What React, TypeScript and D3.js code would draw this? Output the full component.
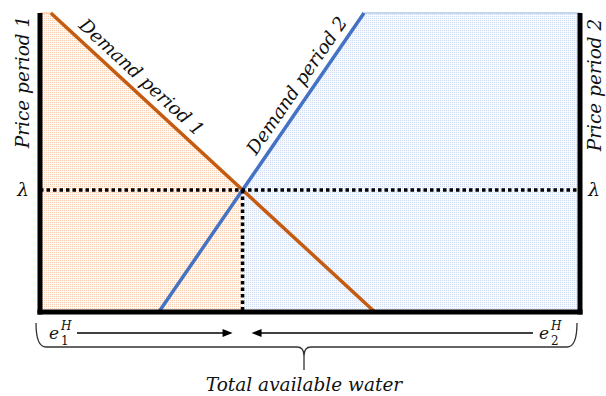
import React from "react";
import * as d3 from "d3";

// demand curves in (share of total water, price) units
const demand1 = [
  { water: 2, price: 100 },
  { water: 62, price: 0 },
];
const demand2 = [
  { water: 22, price: 0 },
  { water: 60, price: 100 },
];
const curveLabels = ["Demand period 1", "Demand period 2"];
const labelPrice = [75, 73];
const axisLabels = ["Price period 1", "Price period 2"];
const bottomLabel = "Total available water";

const W = 606, H = 396;
const FONT = "'DejaVu Serif', serif";

function waterAt(line, p) {
  const [a, b] = line;
  return a.water + ((p - a.price) * (b.water - a.water)) / (b.price - a.price);
}

export default function App() {
  const x = d3.scaleLinear().domain([0, 100]).range([40, 580]);
  const y = d3.scaleLinear().domain([0, 100]).range([312, 13]);

  // equilibrium: where the two demand curves cross
  const s1 = (demand1[1].water - demand1[0].water) / (demand1[1].price - demand1[0].price);
  const s2 = (demand2[1].water - demand2[0].water) / (demand2[1].price - demand2[0].price);
  const lambda = (demand2[0].water - demand1[0].water + s1 * demand1[0].price - s2 * demand2[0].price) / (s1 - s2);
  const e1 = waterAt(demand1, lambda);

  const poly = d3.line<[number, number]>().x(d => x(d[0])).y(d => y(d[1]));
  const orangeArea: [number, number][] = [
    [0, 100], [waterAt(demand1, 100), 100], [e1, lambda], [e1, 0], [0, 0],
  ];
  const blueArea: [number, number][] = [
    [e1, 0], [e1, lambda], [waterAt(demand2, 100), 100], [100, 100], [100, 0],
  ];
  const path = d3.line<{ water: number; price: number }>().x(d => x(d.water)).y(d => y(d.price));

  const ang1 = (Math.atan2(y(demand1[1].price) - y(demand1[0].price), x(demand1[1].water) - x(demand1[0].water)) * 180) / Math.PI;
  const ang2 = (Math.atan2(y(demand2[1].price) - y(demand2[0].price), x(demand2[1].water) - x(demand2[0].water)) * 180) / Math.PI;

  const ex = x(e1), ly = y(lambda);
  const arrowY = 333;
  const braceTop = 323, braceY = 347, mid = 304;

  return (
    <svg width={W} height={H} style={{ position: "absolute", left: 0, top: 0, background: "#fff" }}>
      <defs>
        <pattern id="dotO" width="2" height="2" patternUnits="userSpaceOnUse">
          <rect width="2" height="2" fill="#fff8f3" />
          <rect width="1" height="1" fill="#f9cdb0" />
        </pattern>
        <pattern id="dotB" width="2" height="2" patternUnits="userSpaceOnUse">
          <rect width="2" height="2" fill="#f7f9fd" />
          <rect width="1" height="1" fill="#cfdcf2" />
        </pattern>
      </defs>

      <path d={poly(orangeArea) + "Z"} fill="url(#dotO)" />
      <path d={poly(blueArea) + "Z"} fill="url(#dotB)" />
      <line x1={x(0)} x2={x(waterAt(demand1, 100))} y1={y(100)} y2={y(100)} stroke="#f8cbad" strokeWidth={1.5} />
      <line x1={x(waterAt(demand2, 100))} x2={x(100)} y1={y(100)} y2={y(100)} stroke="#b4c7e7" strokeWidth={1.5} />

      <path d={path(demand1)!} stroke="#c55a11" strokeWidth={3.5} fill="none" />
      <path d={path(demand2)!} stroke="#4472c4" strokeWidth={3.5} fill="none" />

      <line x1={x(0)} x2={x(100)} y1={ly} y2={ly} stroke="#000" strokeWidth={3.5} strokeDasharray="3.5,3" />
      <line x1={ex} x2={ex} y1={ly} y2={y(0)} stroke="#000" strokeWidth={3.5} strokeDasharray="3.5,3" />

      <line x1={x(0)} x2={x(0)} y1={y(100)} y2={y(0) + 2.5} stroke="#000" strokeWidth={5} />
      <line x1={x(100)} x2={x(100)} y1={y(100)} y2={y(0) + 2.5} stroke="#000" strokeWidth={5} />
      <line x1={x(0) - 2.5} x2={x(100) + 2.5} y1={y(0)} y2={y(0)} stroke="#000" strokeWidth={5} />

      <g fontFamily={FONT} fontStyle="italic" fontSize={18.5} fill="#111">
        {[demand1, demand2].map((dm, i) => {
          const p = labelPrice[i];
          const px = x(waterAt(dm, p)), py = y(p);
          return (
            <text key={i} transform={`translate(${px},${py}) rotate(${i === 0 ? ang1 : ang2})`} dy={-8} textAnchor="middle">
              {curveLabels[i]}
            </text>
          );
        })}
        <text transform={`translate(29,82) rotate(-90)`} textAnchor="middle">{axisLabels[0]}</text>
        <text transform={`translate(601,85) rotate(-90)`} textAnchor="middle">{axisLabels[1]}</text>
        <text x={23} y={ly + 6} textAnchor="middle">λ</text>
        <text x={594} y={ly + 6} textAnchor="middle">λ</text>
        <text x={mid} y={391} textAnchor="middle">{bottomLabel}</text>
      </g>

      <g fontFamily={FONT} fontStyle="italic" fill="#111">
        <text x={49} y={339} fontSize={17}>e</text>
        <text x={61} y={330} fontSize={12}>H</text>
        <text x={61} y={345} fontSize={12} fontStyle="normal">1</text>
        <text x={539} y={339} fontSize={17}>e</text>
        <text x={551} y={330} fontSize={12}>H</text>
        <text x={551} y={345} fontSize={12} fontStyle="normal">2</text>
      </g>

      <line x1={77} x2={ex - 12} y1={arrowY} y2={arrowY} stroke="#000" strokeWidth={1.3} />
      <path d={`M${ex - 10},${arrowY} l-10,-4 l0,8 Z`} fill="#000" />
      <line x1={ex + 12} x2={533} y1={arrowY} y2={arrowY} stroke="#000" strokeWidth={1.3} />
      <path d={`M${ex + 9},${arrowY} l10,-4 l0,8 Z`} fill="#000" />

      <path
        d={`M36,${braceTop} Q36,${braceY} 46,${braceY} L${mid - 7},${braceY} Q${mid},${braceY} ${mid},${braceY + 9} L${mid},370 M${mid},${braceY + 9} Q${mid},${braceY} ${mid + 7},${braceY} L567,${braceY} Q577,${braceY} 577,${braceTop}`}
        fill="none"
        stroke="#333"
        strokeWidth={1.3}
      />
    </svg>
  );
}
